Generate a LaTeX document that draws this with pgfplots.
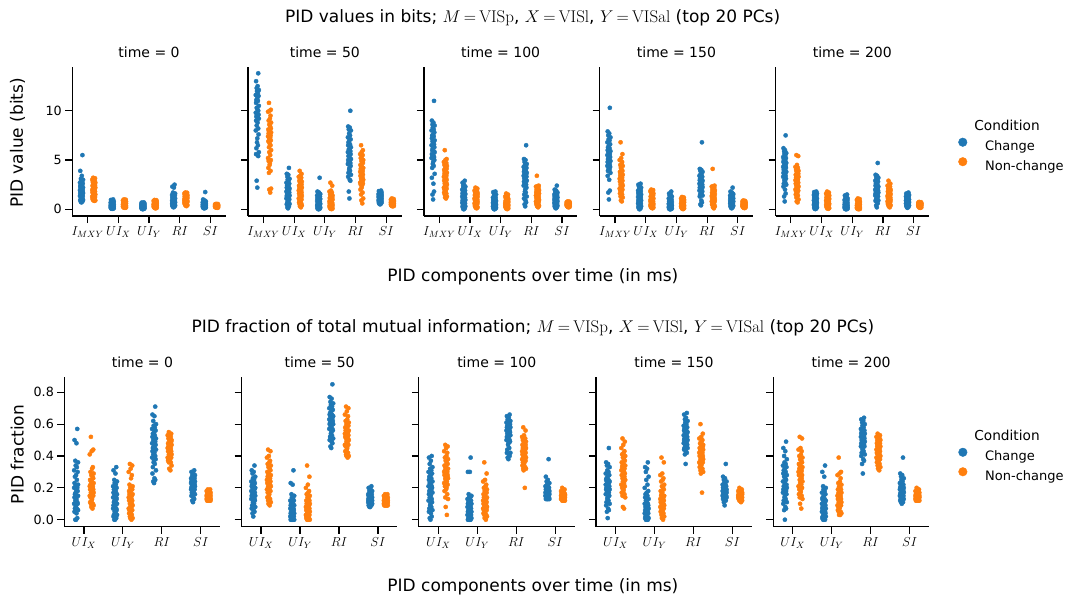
\RequirePackage{fix-cm}
\documentclass[border=0pt]{standalone}
\usepackage[no-math]{fontspec}
\setmainfont{DejaVu Sans}
\usepackage{pgfplots}
\usepackage{pgfplotstable}
\pgfplotsset{compat=1.18}

\definecolor{cblue}{HTML}{1F77B4}
\definecolor{corange}{HTML}{FF7F0E}
\newcommand\meq{\mkern-1.5mu=\mkern-1.5mu}

% one row per group: ja/jb = jitter, aK = Change, bK = Non-change, K = category
% top row: I_MXY, UI_X, UI_Y, RI, SI (bits)
\pgfplotstableread[header=false]{
ja 0.03 -0.04 0.01 -0.02 0.05 -0.01 0.02 -0.05 0.04 0.00 -0.03 0.02 -0.04 0.05 -0.02 0.01 0.03 -0.05 0.00 0.04 -0.01 -0.03 0.02 0.05 -0.04 0.01 -0.02 0.03 -0.05 0.04 0.00 -0.01 0.02 -0.03 0.05 -0.04 0.01 0.03 -0.02 0.00
jb -0.02 0.04 0.00 -0.05 0.03 0.01 -0.03 0.05 -0.01 0.02 0.04 -0.04 0.00 -0.02 0.05 -0.03 0.01 0.03 -0.05 0.02 -0.01 0.04 -0.04 0.00 0.03 -0.02 0.05 -0.01 0.02 -0.05 0.04 -0.03 0.01 0.00 -0.04 0.03 -0.02 0.05 -0.01 0.02
a0 5.5 3.9 3.4 3.1 3.0 2.9 2.8 2.7 2.6 2.5 2.45 2.4 2.3 2.2 2.15 2.1 2.0 1.95 1.9 1.85 1.8 1.75 1.7 1.65 1.6 1.5 1.45 1.4 1.35 1.3 1.2 1.15 1.1 1.0 0.95 0.9 0.85 0.8 0.75 0.7
b0 3.2 3.15 3.1 3.0 2.9 2.8 2.75 2.7 2.6 2.5 2.45 2.4 2.3 2.25 2.2 2.1 2.05 2.0 1.95 1.9 1.85 1.8 1.7 1.65 1.6 1.55 1.5 1.45 1.4 1.3 1.25 1.2 1.15 1.1 1.05 1.0 0.95 0.9 0.9 0.85
a1 1.0 0.95 0.9 0.85 0.8 0.75 0.7 0.68 0.65 0.6 0.58 0.55 0.52 0.5 0.48 0.45 0.42 0.4 0.38 0.36 0.35 0.33 0.3 0.28 0.27 0.25 0.23 0.22 0.2 0.18 0.17 0.15 0.14 0.12 0.1 0.1 0.08 0.07 0.06 0.05
b1 1.0 0.98 0.95 0.9 0.88 0.85 0.8 0.78 0.75 0.72 0.7 0.68 0.65 0.62 0.6 0.58 0.55 0.53 0.5 0.48 0.46 0.45 0.43 0.4 0.38 0.36 0.35 0.33 0.31 0.3 0.28 0.26 0.25 0.23 0.22 0.2 0.19 0.18 0.16 0.15
a2 0.7 0.68 0.65 0.62 0.6 0.58 0.55 0.52 0.5 0.48 0.46 0.44 0.42 0.4 0.38 0.36 0.35 0.33 0.32 0.3 0.28 0.27 0.25 0.24 0.22 0.2 0.19 0.18 0.16 0.15 0.13 0.12 0.1 0.09 0.08 0.06 0.05 0.04 0.02 0.01
b2 0.95 0.92 0.9 0.86 0.82 0.8 0.78 0.75 0.72 0.7 0.68 0.65 0.62 0.6 0.58 0.56 0.55 0.52 0.5 0.48 0.46 0.45 0.43 0.42 0.4 0.38 0.36 0.35 0.33 0.3 0.28 0.27 0.25 0.23 0.2 0.18 0.16 0.15 0.12 0.1
a3 2.5 2.3 2.2 1.7 1.6 1.55 1.5 1.45 1.4 1.3 1.25 1.2 1.15 1.1 1.05 1.0 0.95 0.9 0.88 0.85 0.8 0.78 0.75 0.7 0.68 0.65 0.6 0.58 0.55 0.5 0.48 0.45 0.42 0.4 0.38 0.35 0.3 0.28 0.25 0.2
b3 1.7 1.68 1.65 1.6 1.55 1.5 1.45 1.42 1.4 1.35 1.3 1.28 1.25 1.2 1.15 1.12 1.1 1.05 1.0 0.98 0.95 0.92 0.9 0.88 0.85 0.82 0.8 0.78 0.75 0.72 0.7 0.66 0.62 0.6 0.55 0.5 0.45 0.42 0.38 0.32
a4 1.75 1.0 0.9 0.85 0.8 0.78 0.75 0.7 0.68 0.65 0.62 0.6 0.58 0.55 0.52 0.5 0.48 0.46 0.45 0.43 0.42 0.4 0.38 0.36 0.35 0.33 0.32 0.3 0.28 0.27 0.25 0.23 0.22 0.2 0.18 0.17 0.15 0.13 0.12 0.1
b4 0.55 0.54 0.52 0.5 0.49 0.48 0.47 0.46 0.45 0.44 0.43 0.42 0.41 0.4 0.39 0.38 0.37 0.36 0.35 0.35 0.34 0.33 0.32 0.31 0.3 0.3 0.29 0.28 0.27 0.26 0.25 0.24 0.23 0.22 0.21 0.2 0.19 0.18 0.17 0.15
}\rawTa
\pgfplotstableread[header=false]{
ja 0.03 -0.04 0.01 -0.02 0.05 -0.01 0.02 -0.05 0.04 0.00 -0.03 0.02 -0.04 0.05 -0.02 0.01 0.03 -0.05 0.00 0.04 -0.01 -0.03 0.02 0.05 -0.04 0.01 -0.02 0.03 -0.05 0.04 0.00 -0.01 0.02 -0.03 0.05 -0.04 0.01 0.03 -0.02 0.00
jb -0.02 0.04 0.00 -0.05 0.03 0.01 -0.03 0.05 -0.01 0.02 0.04 -0.04 0.00 -0.02 0.05 -0.03 0.01 0.03 -0.05 0.02 -0.01 0.04 -0.04 0.00 0.03 -0.02 0.05 -0.01 0.02 -0.05 0.04 -0.03 0.01 0.00 -0.04 0.03 -0.02 0.05 -0.01 0.02
a0 13.8 13.0 12.5 12.3 12.1 12.0 11.8 11.6 11.5 11.3 11.1 11.0 10.8 10.5 10.3 10.1 10.0 9.8 9.7 9.6 9.5 9.4 9.3 9.2 9.0 8.8 8.5 8.2 8.0 7.6 7.2 6.8 6.5 6.2 5.8 5.6 5.5 5.4 2.9 2.2
b0 10.8 10.1 10.0 9.9 9.5 9.2 9.0 8.8 8.6 8.4 8.2 8.1 8.0 7.9 7.8 7.7 7.6 7.5 7.4 7.3 7.2 7.0 6.9 6.7 6.5 6.3 6.0 5.8 5.5 5.2 5.0 4.9 4.7 4.5 4.2 3.9 3.7 2.1 2.0 1.7
a1 4.2 3.6 3.5 3.3 3.1 3.0 2.9 2.7 2.6 2.5 2.4 2.3 2.2 2.1 2.0 1.95 1.9 1.8 1.75 1.7 1.6 1.55 1.5 1.4 1.35 1.3 1.2 1.15 1.1 1.0 0.9 0.8 0.7 0.6 0.55 0.5 0.4 0.3 0.2 0.1
b1 3.9 3.6 3.4 3.3 3.2 3.0 2.9 2.8 2.7 2.6 2.5 2.4 2.35 2.3 2.2 2.1 2.0 1.95 1.9 1.85 1.8 1.7 1.6 1.55 1.5 1.4 1.35 1.3 1.2 1.1 1.0 0.95 0.9 0.8 0.7 0.6 0.5 0.4 0.3 0.2
a2 3.2 1.8 1.7 1.6 1.55 1.5 1.45 1.4 1.3 1.25 1.2 1.15 1.1 1.05 1.0 0.95 0.9 0.85 0.8 0.75 0.7 0.65 0.6 0.55 0.5 0.45 0.4 0.38 0.35 0.3 0.28 0.25 0.2 0.18 0.15 0.1 0.08 0.05 0.03 0.0
b2 2.7 2.4 1.9 1.8 1.7 1.6 1.5 1.4 1.35 1.3 1.2 1.15 1.1 1.05 1.0 0.95 0.9 0.85 0.8 0.75 0.7 0.65 0.6 0.58 0.55 0.5 0.45 0.42 0.4 0.35 0.3 0.28 0.25 0.2 0.18 0.15 0.1 0.08 0.05 0.02
a3 10.0 8.4 8.3 8.1 8.0 7.7 7.5 7.3 7.1 7.0 6.8 6.6 6.5 6.3 6.1 6.0 5.9 5.8 5.7 5.6 5.5 5.4 5.2 5.1 5.0 4.9 4.8 4.7 4.6 4.4 4.2 4.0 3.9 3.7 3.5 3.3 3.0 2.9 1.8 1.1
b3 6.5 6.0 5.8 5.6 5.5 5.4 5.2 5.0 4.9 4.8 4.7 4.5 4.4 4.3 4.2 4.1 4.0 3.9 3.8 3.7 3.6 3.5 3.4 3.3 3.2 3.1 3.0 2.9 2.8 2.7 2.6 2.5 2.4 2.2 2.0 1.7 1.5 1.1 0.9 0.6
a4 1.9 1.85 1.8 1.75 1.7 1.65 1.6 1.55 1.5 1.48 1.45 1.42 1.4 1.38 1.35 1.3 1.28 1.25 1.2 1.18 1.15 1.12 1.1 1.05 1.0 0.98 0.95 0.9 0.88 0.85 0.8 0.78 0.75 0.72 0.7 0.65 0.6 0.58 0.55 0.5
b4 1.1 1.05 1.0 0.98 0.95 0.92 0.9 0.88 0.86 0.85 0.83 0.82 0.8 0.78 0.76 0.75 0.73 0.72 0.7 0.68 0.66 0.65 0.63 0.62 0.6 0.58 0.56 0.55 0.53 0.5 0.48 0.46 0.45 0.42 0.4 0.38 0.36 0.35 0.32 0.3
}\rawTb
\pgfplotstableread[header=false]{
ja 0.03 -0.04 0.01 -0.02 0.05 -0.01 0.02 -0.05 0.04 0.00 -0.03 0.02 -0.04 0.05 -0.02 0.01 0.03 -0.05 0.00 0.04 -0.01 -0.03 0.02 0.05 -0.04 0.01 -0.02 0.03 -0.05 0.04 0.00 -0.01 0.02 -0.03 0.05 -0.04 0.01 0.03 -0.02 0.00
jb -0.02 0.04 0.00 -0.05 0.03 0.01 -0.03 0.05 -0.01 0.02 0.04 -0.04 0.00 -0.02 0.05 -0.03 0.01 0.03 -0.05 0.02 -0.01 0.04 -0.04 0.00 0.03 -0.02 0.05 -0.01 0.02 -0.05 0.04 -0.03 0.01 0.00 -0.04 0.03 -0.02 0.05 -0.01 0.02
a0 11.0 9.0 8.8 8.6 8.5 8.3 8.1 8.0 7.8 7.6 7.5 7.4 7.2 7.0 6.9 6.8 6.6 6.5 6.4 6.3 6.2 6.0 5.9 5.8 5.6 5.5 5.4 5.3 5.2 5.0 4.8 4.6 4.4 4.2 3.6 3.2 2.6 1.8 1.5 1.0
b0 6.0 5.1 5.0 4.8 4.7 4.6 4.5 4.4 4.3 4.2 4.1 4.0 3.9 3.8 3.7 3.6 3.5 3.4 3.3 3.2 3.1 3.0 2.9 2.8 2.7 2.6 2.5 2.4 2.3 2.2 2.1 2.0 1.9 1.8 1.7 1.6 1.5 1.3 1.2 1.1
a1 2.9 2.7 2.5 2.4 2.3 2.2 2.1 2.0 1.9 1.8 1.75 1.7 1.6 1.55 1.5 1.45 1.4 1.3 1.25 1.2 1.15 1.1 1.0 0.95 0.9 0.85 0.8 0.7 0.65 0.6 0.5 0.45 0.4 0.35 0.3 0.25 0.2 0.1 0.05 0.0
b1 2.2 2.1 2.0 1.9 1.85 1.8 1.7 1.65 1.6 1.55 1.5 1.45 1.4 1.35 1.3 1.25 1.2 1.15 1.1 1.05 1.0 0.98 0.95 0.9 0.85 0.8 0.75 0.7 0.65 0.6 0.55 0.5 0.45 0.4 0.35 0.3 0.25 0.2 0.15 0.1
a2 1.8 1.75 1.7 1.6 1.5 1.4 1.3 1.2 1.15 1.1 1.0 0.95 0.9 0.85 0.8 0.75 0.7 0.65 0.6 0.58 0.55 0.5 0.48 0.45 0.42 0.4 0.38 0.35 0.3 0.28 0.25 0.22 0.2 0.18 0.15 0.12 0.1 0.06 0.03 0.0
b2 1.6 1.5 1.4 1.3 1.25 1.2 1.1 1.05 1.0 0.95 0.9 0.85 0.8 0.78 0.75 0.7 0.68 0.65 0.62 0.6 0.58 0.55 0.52 0.5 0.48 0.45 0.42 0.4 0.38 0.35 0.3 0.28 0.25 0.22 0.2 0.15 0.12 0.1 0.05 0.02
a3 6.5 5.1 5.0 4.8 4.6 4.5 4.4 4.3 4.2 4.1 4.0 3.9 3.8 3.7 3.6 3.55 3.5 3.4 3.35 3.3 3.2 3.1 3.0 2.9 2.8 2.7 2.6 2.5 2.4 2.2 2.0 1.8 1.7 1.5 1.3 1.1 0.9 0.7 0.5 0.3
b3 3.4 2.4 2.35 2.3 2.2 2.1 2.0 1.95 1.9 1.85 1.8 1.75 1.7 1.65 1.6 1.55 1.5 1.45 1.4 1.35 1.3 1.25 1.2 1.15 1.1 1.0 0.95 0.9 0.85 0.8 0.75 0.7 0.65 0.6 0.55 0.5 0.4 0.35 0.3 0.2
a4 2.4 2.0 1.9 1.8 1.7 1.65 1.6 1.5 1.45 1.4 1.35 1.3 1.25 1.2 1.15 1.1 1.05 1.0 0.98 0.95 0.9 0.88 0.85 0.8 0.75 0.7 0.68 0.65 0.6 0.55 0.5 0.48 0.45 0.4 0.35 0.3 0.25 0.2 0.15 0.1
b4 0.8 0.78 0.75 0.72 0.7 0.68 0.66 0.65 0.63 0.62 0.6 0.59 0.58 0.57 0.56 0.55 0.54 0.53 0.52 0.51 0.5 0.49 0.48 0.47 0.46 0.45 0.44 0.43 0.42 0.41 0.4 0.38 0.37 0.35 0.33 0.3 0.28 0.26 0.23 0.2
}\rawTc
\pgfplotstableread[header=false]{
ja 0.03 -0.04 0.01 -0.02 0.05 -0.01 0.02 -0.05 0.04 0.00 -0.03 0.02 -0.04 0.05 -0.02 0.01 0.03 -0.05 0.00 0.04 -0.01 -0.03 0.02 0.05 -0.04 0.01 -0.02 0.03 -0.05 0.04 0.00 -0.01 0.02 -0.03 0.05 -0.04 0.01 0.03 -0.02 0.00
jb -0.02 0.04 0.00 -0.05 0.03 0.01 -0.03 0.05 -0.01 0.02 0.04 -0.04 0.00 -0.02 0.05 -0.03 0.01 0.03 -0.05 0.02 -0.01 0.04 -0.04 0.00 0.03 -0.02 0.05 -0.01 0.02 -0.05 0.04 -0.03 0.01 0.00 -0.04 0.03 -0.02 0.05 -0.01 0.02
a0 10.3 7.9 7.7 7.5 7.3 7.1 7.0 6.8 6.6 6.5 6.3 6.2 6.0 5.9 5.8 5.7 5.6 5.5 5.4 5.3 5.2 5.1 5.0 4.9 4.8 4.7 4.6 4.5 4.4 4.3 4.2 4.1 4.0 3.9 3.7 3.4 3.0 1.9 1.7 1.0
b0 6.8 5.6 5.2 5.0 4.8 4.6 4.5 4.4 4.2 4.0 3.9 3.8 3.7 3.6 3.5 3.4 3.3 3.2 3.1 3.0 2.95 2.9 2.8 2.7 2.6 2.5 2.4 2.3 2.2 2.1 2.0 1.9 1.8 1.7 1.6 1.5 1.3 1.2 0.9 0.8
a1 2.6 2.5 2.4 2.3 2.2 2.1 2.0 1.9 1.85 1.8 1.7 1.65 1.6 1.5 1.45 1.4 1.3 1.25 1.2 1.15 1.1 1.0 0.95 0.9 0.85 0.8 0.75 0.7 0.6 0.55 0.5 0.45 0.4 0.35 0.3 0.2 0.15 0.1 0.05 0.0
b1 2.0 1.95 1.9 1.85 1.8 1.75 1.7 1.6 1.5 1.45 1.4 1.3 1.25 1.2 1.1 1.05 1.0 0.95 0.9 0.88 0.85 0.8 0.75 0.7 0.65 0.6 0.55 0.5 0.48 0.45 0.4 0.38 0.35 0.3 0.28 0.25 0.2 0.18 0.15 0.1
a2 1.8 1.6 1.5 1.4 1.3 1.2 1.15 1.1 1.0 0.95 0.9 0.85 0.8 0.75 0.7 0.65 0.6 0.55 0.5 0.48 0.45 0.42 0.4 0.38 0.35 0.3 0.28 0.25 0.22 0.2 0.18 0.15 0.12 0.1 0.08 0.06 0.05 0.03 0.01 0.0
b2 1.25 1.2 1.15 1.1 1.05 1.0 0.98 0.95 0.9 0.85 0.82 0.8 0.75 0.72 0.7 0.68 0.65 0.6 0.58 0.55 0.52 0.5 0.48 0.45 0.42 0.4 0.38 0.35 0.32 0.3 0.28 0.25 0.22 0.2 0.18 0.15 0.12 0.1 0.05 0.02
a3 6.8 4.1 4.0 3.9 3.8 3.6 3.5 3.4 3.3 3.2 3.1 3.0 2.95 2.9 2.8 2.75 2.7 2.6 2.55 2.5 2.45 2.4 2.3 2.25 2.2 2.1 2.0 1.95 1.9 1.8 1.7 1.6 1.5 1.45 1.4 1.3 0.9 0.7 0.5 0.4
b3 4.1 2.4 2.35 2.3 2.2 2.1 2.0 1.95 1.9 1.85 1.8 1.7 1.65 1.6 1.55 1.5 1.45 1.4 1.35 1.3 1.25 1.2 1.15 1.1 1.05 1.0 0.95 0.9 0.85 0.8 0.75 0.7 0.65 0.6 0.5 0.45 0.4 0.3 0.2 0.1
a4 2.2 1.8 1.7 1.6 1.55 1.5 1.45 1.4 1.35 1.3 1.25 1.2 1.15 1.1 1.05 1.0 0.98 0.95 0.9 0.88 0.85 0.82 0.8 0.78 0.75 0.72 0.7 0.65 0.6 0.55 0.5 0.48 0.45 0.4 0.35 0.3 0.25 0.2 0.15 0.1
b4 0.9 0.85 0.82 0.8 0.78 0.75 0.72 0.7 0.68 0.66 0.65 0.63 0.6 0.58 0.56 0.55 0.53 0.52 0.5 0.48 0.47 0.46 0.45 0.43 0.42 0.4 0.38 0.37 0.35 0.33 0.32 0.3 0.28 0.26 0.25 0.22 0.2 0.18 0.15 0.12
}\rawTd
\pgfplotstableread[header=false]{
ja 0.03 -0.04 0.01 -0.02 0.05 -0.01 0.02 -0.05 0.04 0.00 -0.03 0.02 -0.04 0.05 -0.02 0.01 0.03 -0.05 0.00 0.04 -0.01 -0.03 0.02 0.05 -0.04 0.01 -0.02 0.03 -0.05 0.04 0.00 -0.01 0.02 -0.03 0.05 -0.04 0.01 0.03 -0.02 0.00
jb -0.02 0.04 0.00 -0.05 0.03 0.01 -0.03 0.05 -0.01 0.02 0.04 -0.04 0.00 -0.02 0.05 -0.03 0.01 0.03 -0.05 0.02 -0.01 0.04 -0.04 0.00 0.03 -0.02 0.05 -0.01 0.02 -0.05 0.04 -0.03 0.01 0.00 -0.04 0.03 -0.02 0.05 -0.01 0.02
a0 7.5 6.2 6.0 5.9 5.7 5.6 5.5 5.3 5.2 5.1 5.0 4.9 4.8 4.7 4.6 4.5 4.4 4.3 4.25 4.2 4.1 4.0 3.9 3.8 3.7 3.6 3.5 3.4 3.3 3.1 3.0 2.9 2.7 2.6 2.5 2.3 2.0 1.6 1.3 0.8
b0 5.5 5.4 4.5 4.3 4.2 4.1 4.0 3.9 3.8 3.7 3.6 3.5 3.45 3.4 3.3 3.2 3.1 3.0 2.95 2.9 2.8 2.7 2.6 2.5 2.45 2.4 2.3 2.2 2.1 2.0 1.9 1.8 1.7 1.6 1.5 1.4 1.2 1.0 0.8 0.7
a1 1.8 1.75 1.7 1.65 1.6 1.55 1.5 1.45 1.4 1.3 1.25 1.2 1.15 1.1 1.05 1.0 0.95 0.9 0.85 0.8 0.78 0.75 0.7 0.65 0.6 0.55 0.5 0.48 0.45 0.4 0.35 0.3 0.28 0.25 0.2 0.15 0.1 0.08 0.05 0.02
b1 1.8 1.7 1.65 1.6 1.55 1.5 1.45 1.4 1.35 1.3 1.25 1.2 1.15 1.1 1.05 1.0 0.95 0.9 0.88 0.85 0.8 0.75 0.7 0.68 0.65 0.6 0.55 0.5 0.48 0.45 0.4 0.38 0.35 0.3 0.25 0.2 0.15 0.12 0.08 0.05
a2 1.5 1.4 1.3 1.2 1.1 1.05 1.0 0.95 0.9 0.85 0.8 0.75 0.7 0.65 0.6 0.55 0.5 0.48 0.45 0.42 0.4 0.38 0.35 0.32 0.3 0.28 0.25 0.22 0.2 0.18 0.15 0.13 0.12 0.1 0.08 0.06 0.05 0.03 0.02 0.0
b2 1.1 1.05 1.0 0.95 0.9 0.85 0.8 0.75 0.7 0.65 0.6 0.58 0.55 0.52 0.5 0.48 0.45 0.42 0.4 0.38 0.35 0.33 0.3 0.28 0.26 0.25 0.22 0.2 0.18 0.16 0.15 0.13 0.12 0.1 0.08 0.07 0.05 0.04 0.02 0.01
a3 4.7 3.5 3.4 3.3 3.2 3.1 3.0 2.9 2.8 2.7 2.6 2.5 2.4 2.3 2.25 2.2 2.1 2.0 1.95 1.9 1.85 1.8 1.75 1.7 1.6 1.55 1.5 1.45 1.4 1.3 1.2 1.1 1.0 0.95 0.9 0.85 0.8 0.6 0.4 0.2
b3 2.9 2.6 2.5 2.4 2.3 2.2 2.1 2.0 1.95 1.9 1.85 1.8 1.7 1.6 1.55 1.5 1.45 1.4 1.35 1.3 1.25 1.2 1.15 1.1 1.05 1.0 0.95 0.9 0.85 0.8 0.75 0.7 0.65 0.6 0.55 0.5 0.45 0.4 0.3 0.2
a4 1.7 1.6 1.55 1.5 1.45 1.4 1.35 1.3 1.25 1.2 1.15 1.1 1.05 1.0 0.98 0.95 0.9 0.88 0.85 0.82 0.8 0.78 0.75 0.72 0.7 0.68 0.65 0.6 0.58 0.55 0.5 0.48 0.45 0.4 0.38 0.35 0.3 0.25 0.2 0.15
b4 0.75 0.72 0.7 0.68 0.66 0.65 0.63 0.62 0.6 0.58 0.57 0.56 0.55 0.54 0.53 0.52 0.5 0.49 0.48 0.47 0.46 0.45 0.44 0.43 0.42 0.41 0.4 0.38 0.37 0.35 0.34 0.32 0.3 0.28 0.26 0.25 0.22 0.2 0.17 0.14
}\rawTe

% bottom row: UI_X, UI_Y, RI, SI (fraction)
\pgfplotstableread[header=false]{
ja 0.03 -0.04 0.01 -0.02 0.05 -0.01 0.02 -0.05 0.04 0.00 -0.03 0.02 -0.04 0.05 -0.02 0.01 0.03 -0.05 0.00 0.04 -0.01 -0.03 0.02 0.05 -0.04 0.01 -0.02 0.03 -0.05 0.04 0.00 -0.01 0.02 -0.03 0.05 -0.04 0.01 0.03 -0.02 0.00
jb -0.02 0.04 0.00 -0.05 0.03 0.01 -0.03 0.05 -0.01 0.02 0.04 -0.04 0.00 -0.02 0.05 -0.03 0.01 0.03 -0.05 0.02 -0.01 0.04 -0.04 0.00 0.03 -0.02 0.05 -0.01 0.02 -0.05 0.04 -0.03 0.01 0.00 -0.04 0.03 -0.02 0.05 -0.01 0.02
a0 0.57 0.50 0.48 0.37 0.36 0.34 0.33 0.31 0.30 0.28 0.27 0.25 0.23 0.22 0.21 0.21 0.20 0.20 0.19 0.18 0.17 0.16 0.15 0.15 0.14 0.13 0.12 0.11 0.10 0.10 0.09 0.08 0.07 0.07 0.06 0.05 0.04 0.01 0.0 0.0
b0 0.52 0.44 0.43 0.41 0.33 0.32 0.30 0.29 0.28 0.27 0.26 0.25 0.25 0.24 0.23 0.22 0.22 0.21 0.21 0.20 0.20 0.19 0.19 0.18 0.18 0.17 0.17 0.16 0.16 0.15 0.15 0.14 0.13 0.12 0.11 0.10 0.10 0.09 0.08 0.07
a1 0.33 0.31 0.29 0.25 0.24 0.23 0.22 0.21 0.20 0.20 0.19 0.18 0.17 0.16 0.16 0.15 0.14 0.14 0.13 0.13 0.12 0.11 0.11 0.10 0.09 0.09 0.08 0.07 0.07 0.06 0.05 0.05 0.04 0.03 0.03 0.02 0.02 0.01 0.0 0.0
b1 0.35 0.34 0.32 0.30 0.28 0.26 0.22 0.21 0.20 0.20 0.19 0.18 0.18 0.17 0.16 0.16 0.15 0.15 0.14 0.13 0.13 0.12 0.12 0.11 0.10 0.10 0.09 0.08 0.08 0.07 0.06 0.06 0.05 0.05 0.04 0.03 0.02 0.01 0.01 0.0
a2 0.71 0.66 0.65 0.62 0.60 0.59 0.58 0.57 0.56 0.55 0.54 0.53 0.52 0.51 0.50 0.49 0.49 0.48 0.47 0.47 0.46 0.45 0.45 0.44 0.43 0.42 0.41 0.40 0.39 0.38 0.37 0.36 0.35 0.33 0.31 0.29 0.26 0.25 0.24 0.23
b2 0.55 0.54 0.53 0.53 0.52 0.51 0.51 0.50 0.50 0.49 0.49 0.48 0.48 0.47 0.47 0.46 0.46 0.45 0.45 0.44 0.44 0.43 0.43 0.42 0.42 0.41 0.41 0.40 0.40 0.39 0.39 0.38 0.38 0.37 0.37 0.36 0.36 0.34 0.32 0.31
a3 0.31 0.30 0.29 0.28 0.28 0.27 0.27 0.26 0.26 0.25 0.25 0.25 0.24 0.24 0.24 0.23 0.23 0.23 0.22 0.22 0.22 0.21 0.21 0.21 0.20 0.20 0.20 0.19 0.19 0.19 0.18 0.18 0.17 0.17 0.16 0.15 0.14 0.13 0.12 0.11
b3 0.19 0.19 0.18 0.18 0.18 0.17 0.17 0.17 0.17 0.16 0.16 0.16 0.16 0.16 0.15 0.15 0.15 0.15 0.15 0.15 0.14 0.14 0.14 0.14 0.14 0.14 0.13 0.13 0.13 0.13 0.13 0.13 0.12 0.12 0.12 0.12 0.12 0.12 0.12 0.12
}\rawBa
\pgfplotstableread[header=false]{
ja 0.03 -0.04 0.01 -0.02 0.05 -0.01 0.02 -0.05 0.04 0.00 -0.03 0.02 -0.04 0.05 -0.02 0.01 0.03 -0.05 0.00 0.04 -0.01 -0.03 0.02 0.05 -0.04 0.01 -0.02 0.03 -0.05 0.04 0.00 -0.01 0.02 -0.03 0.05 -0.04 0.01 0.03 -0.02 0.00
jb -0.02 0.04 0.00 -0.05 0.03 0.01 -0.03 0.05 -0.01 0.02 0.04 -0.04 0.00 -0.02 0.05 -0.03 0.01 0.03 -0.05 0.02 -0.01 0.04 -0.04 0.00 0.03 -0.02 0.05 -0.01 0.02 -0.05 0.04 -0.03 0.01 0.00 -0.04 0.03 -0.02 0.05 -0.01 0.02
a0 0.34 0.31 0.30 0.29 0.27 0.26 0.25 0.24 0.23 0.22 0.22 0.21 0.21 0.20 0.20 0.19 0.19 0.18 0.18 0.17 0.17 0.16 0.16 0.15 0.15 0.14 0.14 0.13 0.13 0.12 0.12 0.11 0.10 0.09 0.08 0.07 0.06 0.05 0.04 0.02
b0 0.44 0.43 0.40 0.39 0.37 0.36 0.35 0.34 0.33 0.32 0.31 0.30 0.29 0.28 0.28 0.27 0.26 0.26 0.25 0.25 0.24 0.24 0.23 0.22 0.22 0.21 0.21 0.20 0.19 0.19 0.18 0.17 0.16 0.15 0.14 0.13 0.12 0.11 0.10 0.09
a1 0.31 0.23 0.22 0.16 0.15 0.14 0.13 0.12 0.12 0.11 0.10 0.10 0.09 0.09 0.08 0.08 0.07 0.07 0.06 0.06 0.05 0.05 0.05 0.04 0.04 0.03 0.03 0.03 0.02 0.02 0.02 0.01 0.01 0.01 0.0 0.0 0.0 0.0 0.0 0.0
b1 0.34 0.27 0.22 0.20 0.18 0.17 0.16 0.15 0.14 0.13 0.12 0.12 0.11 0.11 0.10 0.10 0.09 0.09 0.08 0.08 0.07 0.07 0.06 0.06 0.05 0.05 0.05 0.04 0.04 0.03 0.03 0.02 0.02 0.01 0.01 0.01 0.0 0.0 0.0 0.0
a2 0.85 0.77 0.76 0.74 0.73 0.72 0.71 0.70 0.69 0.68 0.67 0.66 0.66 0.65 0.65 0.64 0.64 0.63 0.63 0.62 0.62 0.61 0.61 0.60 0.60 0.59 0.58 0.57 0.57 0.56 0.55 0.54 0.53 0.52 0.51 0.50 0.49 0.48 0.46 0.45
b2 0.71 0.70 0.68 0.66 0.65 0.63 0.62 0.61 0.60 0.59 0.59 0.58 0.57 0.57 0.56 0.56 0.55 0.55 0.54 0.54 0.53 0.53 0.52 0.52 0.51 0.51 0.50 0.49 0.48 0.47 0.47 0.46 0.45 0.44 0.43 0.42 0.41 0.40 0.40 0.39
a3 0.21 0.20 0.19 0.18 0.18 0.17 0.17 0.16 0.16 0.16 0.15 0.15 0.15 0.14 0.14 0.14 0.14 0.13 0.13 0.13 0.13 0.12 0.12 0.12 0.12 0.12 0.11 0.11 0.11 0.11 0.11 0.10 0.10 0.10 0.10 0.09 0.09 0.09 0.08 0.08
b3 0.16 0.16 0.15 0.15 0.15 0.14 0.14 0.14 0.14 0.13 0.13 0.13 0.13 0.13 0.12 0.12 0.12 0.12 0.12 0.12 0.11 0.11 0.11 0.11 0.11 0.11 0.11 0.10 0.10 0.10 0.10 0.10 0.10 0.10 0.09 0.09 0.09 0.09 0.09 0.09
}\rawBb
\pgfplotstableread[header=false]{
ja 0.03 -0.04 0.01 -0.02 0.05 -0.01 0.02 -0.05 0.04 0.00 -0.03 0.02 -0.04 0.05 -0.02 0.01 0.03 -0.05 0.00 0.04 -0.01 -0.03 0.02 0.05 -0.04 0.01 -0.02 0.03 -0.05 0.04 0.00 -0.01 0.02 -0.03 0.05 -0.04 0.01 0.03 -0.02 0.00
jb -0.02 0.04 0.00 -0.05 0.03 0.01 -0.03 0.05 -0.01 0.02 0.04 -0.04 0.00 -0.02 0.05 -0.03 0.01 0.03 -0.05 0.02 -0.01 0.04 -0.04 0.00 0.03 -0.02 0.05 -0.01 0.02 -0.05 0.04 -0.03 0.01 0.00 -0.04 0.03 -0.02 0.05 -0.01 0.02
a0 0.40 0.39 0.37 0.35 0.33 0.32 0.31 0.30 0.29 0.28 0.27 0.26 0.25 0.24 0.23 0.22 0.21 0.21 0.20 0.20 0.19 0.18 0.18 0.17 0.16 0.15 0.14 0.13 0.12 0.11 0.10 0.09 0.08 0.07 0.06 0.05 0.04 0.02 0.01 0.0
b0 0.47 0.46 0.45 0.43 0.42 0.40 0.39 0.38 0.37 0.36 0.35 0.34 0.33 0.33 0.32 0.31 0.31 0.30 0.30 0.29 0.29 0.28 0.28 0.27 0.27 0.26 0.26 0.25 0.24 0.23 0.22 0.21 0.20 0.19 0.18 0.16 0.14 0.13 0.08 0.03
a1 0.39 0.30 0.30 0.16 0.15 0.14 0.14 0.13 0.12 0.12 0.11 0.11 0.10 0.10 0.09 0.09 0.08 0.08 0.07 0.07 0.06 0.06 0.05 0.05 0.05 0.04 0.04 0.03 0.03 0.03 0.02 0.02 0.02 0.01 0.01 0.0 0.0 0.0 0.0 0.0
b1 0.36 0.29 0.25 0.24 0.22 0.21 0.20 0.19 0.18 0.17 0.17 0.16 0.15 0.15 0.14 0.14 0.13 0.13 0.12 0.12 0.11 0.11 0.10 0.10 0.09 0.09 0.08 0.08 0.07 0.07 0.06 0.06 0.05 0.05 0.04 0.03 0.03 0.02 0.01 0.0
a2 0.66 0.65 0.64 0.63 0.62 0.62 0.61 0.61 0.60 0.60 0.59 0.59 0.58 0.58 0.57 0.57 0.56 0.56 0.55 0.55 0.54 0.54 0.53 0.53 0.52 0.52 0.51 0.50 0.50 0.49 0.48 0.47 0.45 0.44 0.42 0.42 0.41 0.40 0.39 0.38
b2 0.58 0.56 0.53 0.52 0.51 0.50 0.50 0.49 0.48 0.48 0.47 0.47 0.46 0.46 0.45 0.45 0.44 0.44 0.43 0.43 0.42 0.42 0.41 0.41 0.40 0.40 0.39 0.39 0.38 0.38 0.37 0.36 0.36 0.35 0.34 0.33 0.32 0.32 0.31 0.20
a3 0.38 0.27 0.25 0.24 0.23 0.22 0.21 0.21 0.20 0.20 0.19 0.19 0.19 0.18 0.18 0.18 0.17 0.17 0.17 0.17 0.16 0.16 0.16 0.16 0.15 0.15 0.15 0.15 0.15 0.14 0.14 0.14 0.14 0.14 0.13 0.13 0.13 0.13 0.13 0.13
b3 0.20 0.19 0.18 0.18 0.17 0.17 0.17 0.16 0.16 0.16 0.16 0.16 0.15 0.15 0.15 0.15 0.15 0.15 0.15 0.14 0.14 0.14 0.14 0.14 0.14 0.14 0.14 0.13 0.13 0.13 0.13 0.13 0.13 0.13 0.13 0.12 0.12 0.12 0.12 0.12
}\rawBc
\pgfplotstableread[header=false]{
ja 0.03 -0.04 0.01 -0.02 0.05 -0.01 0.02 -0.05 0.04 0.00 -0.03 0.02 -0.04 0.05 -0.02 0.01 0.03 -0.05 0.00 0.04 -0.01 -0.03 0.02 0.05 -0.04 0.01 -0.02 0.03 -0.05 0.04 0.00 -0.01 0.02 -0.03 0.05 -0.04 0.01 0.03 -0.02 0.00
jb -0.02 0.04 0.00 -0.05 0.03 0.01 -0.03 0.05 -0.01 0.02 0.04 -0.04 0.00 -0.02 0.05 -0.03 0.01 0.03 -0.05 0.02 -0.01 0.04 -0.04 0.00 0.03 -0.02 0.05 -0.01 0.02 -0.05 0.04 -0.03 0.01 0.00 -0.04 0.03 -0.02 0.05 -0.01 0.02
a0 0.45 0.36 0.35 0.34 0.33 0.31 0.30 0.29 0.28 0.27 0.26 0.25 0.25 0.24 0.24 0.23 0.23 0.22 0.22 0.21 0.21 0.20 0.20 0.19 0.19 0.18 0.18 0.17 0.16 0.15 0.14 0.13 0.12 0.11 0.10 0.09 0.07 0.06 0.05 0.01
b0 0.51 0.49 0.47 0.45 0.43 0.42 0.41 0.40 0.39 0.38 0.37 0.36 0.35 0.34 0.34 0.33 0.32 0.32 0.31 0.30 0.30 0.29 0.28 0.28 0.27 0.26 0.25 0.24 0.23 0.22 0.21 0.20 0.19 0.18 0.17 0.16 0.15 0.14 0.08 0.07
a1 0.36 0.33 0.32 0.30 0.27 0.25 0.22 0.20 0.18 0.17 0.16 0.15 0.14 0.13 0.12 0.11 0.10 0.10 0.09 0.09 0.08 0.08 0.07 0.07 0.06 0.06 0.05 0.05 0.04 0.04 0.03 0.03 0.02 0.02 0.01 0.01 0.0 0.0 0.0 0.0
b1 0.39 0.36 0.29 0.28 0.26 0.25 0.24 0.22 0.21 0.20 0.19 0.18 0.17 0.16 0.15 0.15 0.14 0.14 0.13 0.13 0.12 0.12 0.11 0.11 0.10 0.10 0.09 0.09 0.08 0.08 0.07 0.06 0.06 0.05 0.05 0.04 0.03 0.02 0.01 0.0
a2 0.67 0.66 0.64 0.63 0.62 0.61 0.60 0.59 0.58 0.57 0.57 0.56 0.56 0.55 0.55 0.54 0.54 0.53 0.53 0.52 0.52 0.51 0.51 0.50 0.50 0.49 0.49 0.48 0.48 0.47 0.47 0.46 0.46 0.45 0.45 0.44 0.43 0.42 0.41 0.35
b2 0.60 0.54 0.52 0.51 0.50 0.49 0.48 0.47 0.47 0.46 0.46 0.45 0.45 0.44 0.44 0.43 0.43 0.42 0.42 0.41 0.41 0.40 0.40 0.39 0.39 0.38 0.38 0.37 0.37 0.36 0.36 0.35 0.35 0.34 0.33 0.32 0.31 0.30 0.29 0.17
a3 0.35 0.27 0.26 0.25 0.24 0.23 0.22 0.22 0.21 0.21 0.20 0.20 0.20 0.19 0.19 0.19 0.18 0.18 0.18 0.18 0.17 0.17 0.17 0.17 0.16 0.16 0.16 0.16 0.15 0.15 0.15 0.15 0.14 0.14 0.14 0.13 0.13 0.12 0.11 0.09
b3 0.20 0.19 0.19 0.18 0.18 0.18 0.17 0.17 0.17 0.17 0.16 0.16 0.16 0.16 0.16 0.16 0.15 0.15 0.15 0.15 0.15 0.15 0.15 0.14 0.14 0.14 0.14 0.14 0.14 0.14 0.13 0.13 0.13 0.13 0.13 0.13 0.12 0.12 0.12 0.11
}\rawBd
\pgfplotstableread[header=false]{
ja 0.03 -0.04 0.01 -0.02 0.05 -0.01 0.02 -0.05 0.04 0.00 -0.03 0.02 -0.04 0.05 -0.02 0.01 0.03 -0.05 0.00 0.04 -0.01 -0.03 0.02 0.05 -0.04 0.01 -0.02 0.03 -0.05 0.04 0.00 -0.01 0.02 -0.03 0.05 -0.04 0.01 0.03 -0.02 0.00
jb -0.02 0.04 0.00 -0.05 0.03 0.01 -0.03 0.05 -0.01 0.02 0.04 -0.04 0.00 -0.02 0.05 -0.03 0.01 0.03 -0.05 0.02 -0.01 0.04 -0.04 0.00 0.03 -0.02 0.05 -0.01 0.02 -0.05 0.04 -0.03 0.01 0.00 -0.04 0.03 -0.02 0.05 -0.01 0.02
a0 0.49 0.45 0.43 0.40 0.38 0.36 0.35 0.34 0.33 0.32 0.31 0.30 0.29 0.28 0.27 0.26 0.25 0.24 0.23 0.22 0.21 0.21 0.20 0.20 0.19 0.19 0.18 0.18 0.17 0.16 0.15 0.14 0.13 0.12 0.11 0.10 0.08 0.07 0.06 0.0
b0 0.52 0.51 0.45 0.44 0.43 0.41 0.40 0.39 0.38 0.37 0.36 0.35 0.34 0.34 0.33 0.32 0.32 0.31 0.30 0.30 0.29 0.28 0.28 0.27 0.26 0.25 0.24 0.23 0.22 0.21 0.20 0.19 0.18 0.17 0.16 0.15 0.14 0.13 0.10 0.07
a1 0.34 0.30 0.27 0.21 0.20 0.19 0.18 0.17 0.16 0.15 0.14 0.13 0.13 0.12 0.12 0.11 0.11 0.10 0.10 0.09 0.09 0.08 0.08 0.07 0.07 0.06 0.06 0.05 0.05 0.04 0.04 0.03 0.03 0.02 0.02 0.01 0.01 0.0 0.0 0.0
b1 0.39 0.30 0.29 0.28 0.26 0.24 0.23 0.22 0.21 0.20 0.19 0.19 0.18 0.17 0.17 0.16 0.16 0.15 0.15 0.14 0.14 0.13 0.13 0.12 0.12 0.11 0.11 0.10 0.10 0.09 0.09 0.08 0.08 0.07 0.06 0.05 0.05 0.04 0.03 0.03
a2 0.64 0.63 0.62 0.61 0.60 0.59 0.58 0.57 0.56 0.56 0.55 0.55 0.54 0.54 0.53 0.53 0.52 0.52 0.51 0.51 0.50 0.50 0.49 0.49 0.48 0.48 0.47 0.47 0.46 0.46 0.45 0.44 0.43 0.42 0.41 0.40 0.38 0.37 0.35 0.29
b2 0.54 0.53 0.53 0.52 0.51 0.51 0.50 0.50 0.49 0.49 0.48 0.48 0.47 0.47 0.46 0.46 0.45 0.45 0.44 0.44 0.43 0.43 0.42 0.42 0.41 0.41 0.40 0.40 0.39 0.39 0.38 0.38 0.37 0.37 0.36 0.35 0.34 0.33 0.32 0.31
a3 0.39 0.29 0.28 0.27 0.26 0.25 0.24 0.23 0.22 0.22 0.21 0.21 0.20 0.20 0.20 0.19 0.19 0.19 0.18 0.18 0.18 0.17 0.17 0.17 0.16 0.16 0.16 0.15 0.15 0.15 0.14 0.14 0.14 0.13 0.13 0.12 0.12 0.11 0.11 0.10
b3 0.20 0.19 0.19 0.18 0.18 0.17 0.17 0.17 0.17 0.16 0.16 0.16 0.16 0.16 0.15 0.15 0.15 0.15 0.15 0.15 0.15 0.14 0.14 0.14 0.14 0.14 0.14 0.14 0.13 0.13 0.13 0.13 0.13 0.13 0.12 0.12 0.12 0.12 0.12 0.12
}\rawBe

\pgfplotstabletranspose[colnames from=0]\Ta\rawTa
\pgfplotstabletranspose[colnames from=0]\Tb\rawTb
\pgfplotstabletranspose[colnames from=0]\Tc\rawTc
\pgfplotstabletranspose[colnames from=0]\Td\rawTd
\pgfplotstabletranspose[colnames from=0]\Te\rawTe
\pgfplotstabletranspose[colnames from=0]\Ba\rawBa
\pgfplotstabletranspose[colnames from=0]\Bb\rawBb
\pgfplotstabletranspose[colnames from=0]\Bc\rawBc
\pgfplotstabletranspose[colnames from=0]\Bd\rawBd
\pgfplotstabletranspose[colnames from=0]\Be\rawBe

\pgfplotsset{
  pidaxis/.style={
    scale only axis, anchor=south west, clip=false,
    axis x line*=bottom, axis y line*=left,
    axis line style={black, line width=1.25pt, -},
    tick style={black, line width=1.25pt},
    major tick length=7pt, tick align=outside,
    x tick label style={font=\fontsize{13}{15}\selectfont},
    y tick label style={font=\fontsize{12.7}{15}\selectfont},
    /pgf/number format/assume math mode=true,
    title style={font=\fontsize{14}{16}\selectfont, at={(0.5,1)}, anchor=base, yshift=3.5pt, inner sep=0pt},
  },
  toprow/.style={pidaxis, width=153.5pt, height=149.3pt,
    xmin=-0.5, xmax=4.5, ymin=-0.68, ymax=14.47,
    xtick={0,1,2,3,4}, xticklabels={$I_{MXY}$,$UI_X$,$UI_Y$,$RI$,$SI$},
    ytick={0,5,10}},
  botrow/.style={pidaxis, width=155.9pt, height=149.4pt,
    xmin=-0.5, xmax=3.5, ymin=-0.044, ymax=0.894,
    xtick={0,1,2,3}, xticklabels={$UI_X$,$UI_Y$,$RI$,$SI$},
    ytick={0,0.2,0.4,0.6,0.8},
    yticklabel style={/pgf/number format/.cd, fixed, fixed zerofill, precision=1}},
  nolab/.style={yticklabels={}},
  pb/.style={only marks, mark=*, mark size=2.1pt, color=cblue},
  po/.style={only marks, mark=*, mark size=2.1pt, color=corange},
  myleg/.style={legend entries={Change,Non-change},
    legend image code/.code={\draw[##1, mark size=4.3pt] plot coordinates {(4.3pt,4.5pt)};},
    legend style={draw=none, fill=none, inner sep=0pt, outer sep=0pt, anchor=north west,
      font=\fontsize{13}{15}\selectfont, row sep=4pt, column sep=17pt,
      nodes={inner sep=1pt}, legend cell align=left}},
}

\newcommand\strips[2]{%
  \pgfplotsinvokeforeach{0,...,#1}{%
    \addplot[pb] table[x expr=\thisrow{ja}+##1-0.2, y=a##1] {#2};
    \addplot[po] table[x expr=\thisrow{jb}+##1+0.2, y=b##1] {#2};
  }}

\begin{document}
\begin{tikzpicture}
\path[use as bounding box] (0,0) rectangle (1072pt,-597pt);

% ---- top row: PID values in bits
\begin{axis}[toprow, at={(72.3pt,-216pt)}, title={time = 0}]
\strips{4}{\Ta}
\end{axis}
\begin{axis}[toprow, nolab, at={(248.1pt,-216pt)}, title={time = 50}]
\strips{4}{\Tb}
\end{axis}
\begin{axis}[toprow, nolab, at={(423.9pt,-216pt)}, title={time = 100}]
\strips{4}{\Tc}
\end{axis}
\begin{axis}[toprow, nolab, at={(599.7pt,-216pt)}, title={time = 150}]
\strips{4}{\Td}
\end{axis}
\begin{axis}[toprow, nolab, at={(775.5pt,-216pt)}, title={time = 200},
  myleg, legend style={at={(1.192,0.523)}}]
\strips{4}{\Te}
\end{axis}

% ---- bottom row: PID fraction
\begin{axis}[botrow, at={(64.4pt,-526.7pt)}, title={time = 0}]
\strips{3}{\Ba}
\end{axis}
\begin{axis}[botrow, nolab, at={(241.6pt,-526.7pt)}, title={time = 50}]
\strips{3}{\Bb}
\end{axis}
\begin{axis}[botrow, nolab, at={(418.8pt,-526.7pt)}, title={time = 100}]
\strips{3}{\Bc}
\end{axis}
\begin{axis}[botrow, nolab, at={(596.0pt,-526.7pt)}, title={time = 150}]
\strips{3}{\Bd}
\end{axis}
\begin{axis}[botrow, nolab, at={(773.2pt,-526.7pt)}, title={time = 200},
  myleg, legend style={at={(1.189,0.527)}}]
\strips{3}{\Be}
\end{axis}

% ---- titles and labels
\begin{scope}[every node/.style={inner sep=0pt}]
\node[anchor=base, font=\fontsize{17}{20}\selectfont] at (532.7pt,-22pt)
  {PID values in bits; $M\meq\mathrm{VISp}$, $X\meq\mathrm{VISl}$, $Y\meq\mathrm{VISal}$ (top 20 PCs)};
\node[anchor=base, font=\fontsize{17}{20}\selectfont] at (532.9pt,-332.3pt)
  {PID fraction of total mutual information; $M\meq\mathrm{VISp}$, $X\meq\mathrm{VISl}$, $Y\meq\mathrm{VISal}$ (top 20 PCs)};
\node[anchor=base, font=\fontsize{17}{20}\selectfont] at (532.9pt,-281pt) {PID components over time (in ms)};
\node[anchor=base, font=\fontsize{17}{20}\selectfont] at (532.9pt,-591pt) {PID components over time (in ms)};
\node[anchor=base, rotate=90, font=\fontsize{17}{20}\selectfont] at (23pt,-143pt) {PID value (bits)};
\node[anchor=base, rotate=90, font=\fontsize{17}{20}\selectfont] at (23.5pt,-454.5pt) {PID fraction};
\node[anchor=base, font=\fontsize{13.7}{16}\selectfont] at (1007pt,-130pt) {Condition};
\node[anchor=base, font=\fontsize{13.7}{16}\selectfont] at (1007pt,-440pt) {Condition};
\end{scope}
\end{tikzpicture}
\end{document}
